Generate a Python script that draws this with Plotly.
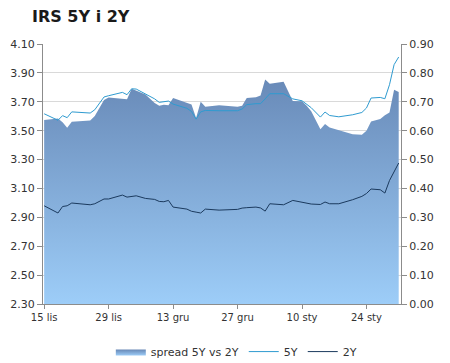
import plotly.graph_objects as go

dates = ["2013-11-15", "2013-11-18", "2013-11-19", "2013-11-20", "2013-11-21", "2013-11-25",
         "2013-11-26", "2013-11-28", "2013-11-29", "2013-12-02", "2013-12-03", "2013-12-04",
         "2013-12-05", "2013-12-07", "2013-12-09", "2013-12-10", "2013-12-11", "2013-12-12",
         "2013-12-13", "2013-12-16", "2013-12-17", "2013-12-18", "2013-12-19", "2013-12-20",
         "2013-12-23", "2013-12-27", "2013-12-28", "2013-12-29", "2013-12-31", "2014-01-01",
         "2014-01-02", "2014-01-03", "2014-01-06", "2014-01-08", "2014-01-10", "2014-01-11",
         "2014-01-12", "2014-01-14", "2014-01-15", "2014-01-16", "2014-01-18", "2014-01-21",
         "2014-01-23", "2014-01-24", "2014-01-25", "2014-01-27", "2014-01-28", "2014-01-29",
         "2014-01-30", "2014-01-31"]

irs_5y = [3.617, 3.572, 3.604, 3.590, 3.630, 3.622,
          3.645, 3.733, 3.742, 3.765, 3.749, 3.790,
          3.788, 3.756, 3.720, 3.696, 3.698, 3.705,
          3.684, 3.655, 3.633, 3.580, 3.630, 3.640,
          3.638, 3.638, 3.650, 3.680, 3.687, 3.687,
          3.720, 3.756, 3.756, 3.720, 3.707, 3.680,
          3.659, 3.594, 3.629, 3.605, 3.596, 3.610,
          3.626, 3.657, 3.726, 3.730, 3.721, 3.818,
          3.957, 4.010]

irs_2y = [2.980, 2.930, 2.975, 2.980, 2.999, 2.987,
          2.994, 3.027, 3.027, 3.054, 3.040, 3.045,
          3.049, 3.031, 3.024, 3.010, 3.008, 3.017,
          2.971, 2.957, 2.942, 2.936, 2.930, 2.957,
          2.950, 2.955, 2.964, 2.967, 2.971, 2.965,
          2.943, 2.994, 2.987, 3.017, 3.005, 2.994,
          2.992, 2.989, 3.006, 2.994, 2.994, 3.022,
          3.045, 3.065, 3.096, 3.091, 3.068, 3.155,
          3.215, 3.276]

spread = [0.637, 0.642, 0.629, 0.610, 0.631, 0.635,
          0.651, 0.706, 0.715, 0.711, 0.709, 0.745,
          0.739, 0.725, 0.696, 0.686, 0.690, 0.688,
          0.713, 0.698, 0.691, 0.644, 0.700, 0.683,
          0.688, 0.683, 0.686, 0.713, 0.716, 0.722,
          0.777, 0.762, 0.769, 0.703, 0.702, 0.686,
          0.667, 0.605, 0.623, 0.611, 0.602, 0.588,
          0.586, 0.600, 0.632, 0.640, 0.653, 0.663,
          0.742, 0.734]

x_tick_vals = ["2013-11-15", "2013-11-29", "2013-12-13", "2013-12-27", "2014-01-10", "2014-01-24"]
x_tick_text = ["15 lis", "29 lis", "13 gru", "27 gru", "10 sty", "24 sty"]
left_ticks = [2.30, 2.50, 2.70, 2.90, 3.10, 3.30, 3.50, 3.70, 3.90, 4.10]
right_ticks = [0.00, 0.10, 0.20, 0.30, 0.40, 0.50, 0.60, 0.70, 0.80, 0.90]

FONT = "DejaVu Sans"
AXIS_COL = "#8c8c8c"
TXT = "#333333"

fig = go.Figure()

fig.add_trace(go.Scatter(
    x=dates, y=spread, name="spread 5Y vs 2Y", mode="lines",
    line=dict(width=0, color="#6f93c0"),
    fill="tozeroy",
    fillgradient=dict(type="vertical", start=0, stop=0.8,
                      colorscale=[[0, "#9dcdf8"], [1, "#6788b6"]]),
    yaxis="y",
))
fig.add_trace(go.Scatter(
    x=dates, y=irs_5y, name="5Y", mode="lines",
    line=dict(width=1, color="#2f9bd0"),
    yaxis="y2",
))
fig.add_trace(go.Scatter(
    x=dates, y=irs_2y, name="2Y", mode="lines",
    line=dict(width=1, color="#1b3a5e"),
    yaxis="y2",
))

fig.update_layout(
    width=450, height=363,
    margin=dict(l=43, r=49, t=44, b=59, autoexpand=False),
    paper_bgcolor="white", plot_bgcolor="white",
    font=dict(family=FONT, size=11, color=TXT),
    title=dict(text="<b>IRS 5Y i 2Y</b>", x=32 / 450, xanchor="left",
               y=1 - 16 / 363, yanchor="middle",
               font=dict(family=FONT, size=16, color="#1a1a1a")),
    showlegend=True,
    legend=dict(orientation="h", x=0.54, xanchor="center", y=-0.183, yanchor="middle",
                font=dict(family=FONT, size=11, color=TXT),
                itemwidth=30, tracegroupgap=0, bgcolor="rgba(0,0,0,0)"),
    xaxis=dict(
        type="date",
        range=["2013-11-14 18:00", "2014-01-31 12:00"],
        tickmode="array", tickvals=x_tick_vals, ticktext=x_tick_text,
        ticks="outside", ticklen=4, tickcolor=AXIS_COL,
        showline=True, linecolor=AXIS_COL, linewidth=1,
        showgrid=False, zeroline=False,
        tickfont=dict(family=FONT, size=10, color=TXT),
    ),
    yaxis=dict(
        side="right", range=[0, 0.9],
        tickmode="array", tickvals=right_ticks,
        ticktext=[f"{v:.2f}" for v in right_ticks],
        ticks="outside", ticklen=5, tickcolor=AXIS_COL,
        showline=True, linecolor=AXIS_COL, linewidth=1,
        showgrid=True, gridcolor="#d9d9d9", gridwidth=1,
        zeroline=False,
        tickfont=dict(family=FONT, size=11, color=TXT),
    ),
    yaxis2=dict(
        side="left", overlaying="y", range=[2.30, 4.10],
        tickmode="array", tickvals=left_ticks,
        ticktext=[f"{v:.2f}" for v in left_ticks],
        ticks="outside", ticklen=5, tickcolor=AXIS_COL,
        showline=True, linecolor=AXIS_COL, linewidth=1,
        showgrid=False, zeroline=False,
        tickfont=dict(family=FONT, size=11, color=TXT),
    ),
)

fig.write_html("out.html",
               config={"displayModeBar": False, "staticPlot": True},
               post_script="document.body.style.margin='0';document.body.style.overflow='hidden';")
